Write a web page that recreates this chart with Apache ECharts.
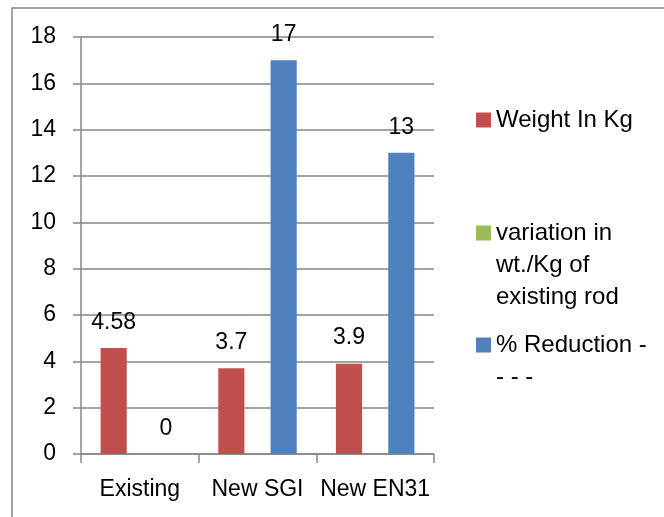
<!DOCTYPE html>
<html><head><meta charset="utf-8">
<script src="https://cdn.jsdelivr.net/npm/echarts@6/dist/echarts.min.js"></script>
<style>html,body{margin:0;padding:0;background:#fff}#c{width:664px;height:517px}</style>
</head><body><div id="c"></div>
<script>
const categories = ['Existing', 'New SGI', 'New EN31'];
const weightKg = [4.58, 3.7, 3.9];
const variation = [null, null, null];
const reduction = [0, 17, 13];
const yTicks = [0, 18, 2];
const seriesNames = ['Weight In Kg', 'variation in\nwt./Kg of\nexisting rod', '% Reduction -\n- - -'];

const FONT = 'Liberation Sans';
const chart = echarts.init(document.getElementById('c'), null, {renderer: 'canvas'});
const lbl = {show: true, position: 'top', distance: 14, color: '#000', fontSize: 23, fontFamily: FONT};
const legText = {fontSize: 24, color: '#000', fontFamily: FONT, lineHeight: 32};
// pad with blank lines above so that the marker sits beside the first text line
const firstLineFormatter = name => {
  const n = name.split('\n').length;
  return '\n'.repeat(n - 1) + name;
};
const legendBase = {orient: 'vertical', itemWidth: 15, itemHeight: 15, icon: 'rect', padding: 0, itemGap: 0,
  textStyle: legText, formatter: firstLineFormatter, selectedMode: false};
chart.setOption({
  animation: false,
  backgroundColor: '#fff',
  textStyle: {fontFamily: FONT},
  graphic: [{type: 'rect', shape: {x: 12, y: 8, width: 700, height: 600}, style: {fill: 'none', stroke: '#868686', lineWidth: 1.5}, silent: true, z: -10}],
  grid: {left: 81, right: 230, top: 37, bottom: 63, containLabel: false},
  legend: [
    Object.assign({}, legendBase, {data: [seriesNames[0]], left: 476, top: 104}),
    Object.assign({}, legendBase, {data: [seriesNames[1]], left: 476, top: 153}),
    Object.assign({}, legendBase, {data: [seriesNames[2]], left: 476, top: 297})
  ],
  xAxis: {
    type: 'category', data: categories,
    axisLine: {lineStyle: {color: '#868686', width: 1.5}},
    axisTick: {show: true, length: 9, lineStyle: {color: '#868686', width: 1.5}},
    axisLabel: {color: '#000', fontSize: 23, fontFamily: FONT, margin: 24, interval: 0}
  },
  yAxis: {
    type: 'value', min: yTicks[0], max: yTicks[1], interval: yTicks[2],
    axisLine: {show: true, lineStyle: {color: '#868686', width: 1.5}},
    axisTick: {show: true, length: 8, lineStyle: {color: '#868686', width: 1.5}},
    splitLine: {lineStyle: {color: '#868686', width: 1.5}},
    axisLabel: {color: '#000', fontSize: 23, fontFamily: FONT, margin: 25}
  },
  series: [
    {name: seriesNames[0], type: 'bar', data: weightKg, itemStyle: {color: '#C0504D'}, barGap: '0%', barCategoryGap: '33.3%', label: lbl},
    {name: seriesNames[1], type: 'bar', data: variation, itemStyle: {color: '#9BBB59'}, label: lbl},
    {name: seriesNames[2], type: 'bar', data: reduction, itemStyle: {color: '#4F81BD'}, label: lbl}
  ]
});
</script></body></html>
